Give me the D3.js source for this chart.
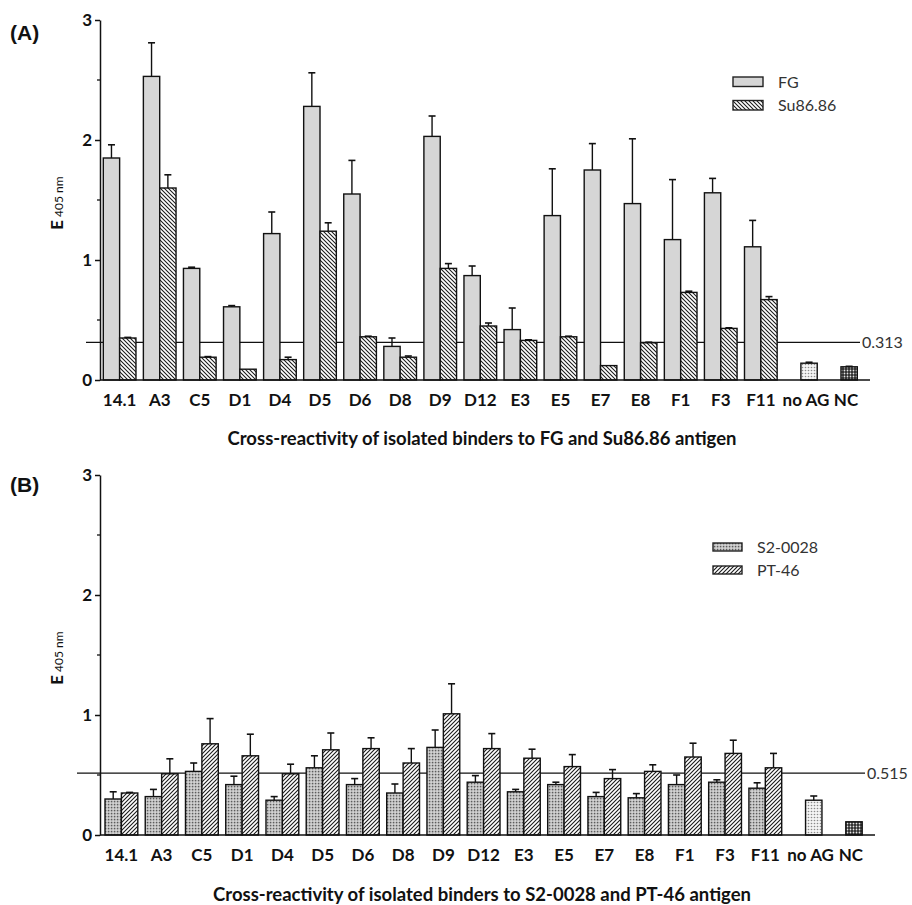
<!DOCTYPE html>
<html>
<head>
<meta charset="utf-8">
<script src="https://cdn.jsdelivr.net/npm/d3@7"></script>
<style>
  body { margin: 0; background: #fff; }
  text { font-family: Lato, "Open Sans", sans-serif; }
</style>
</head>
<body>
<svg id="chart" width="912" height="905"></svg>
<script>
// Binders tested in the ELISA, followed by the two controls
const binders = ["14.1","A3","C5","D1","D4","D5","D6","D8","D9","D12","E3","E5","E7","E8","F1","F3","F11"];
const controls = ["no AG","NC"];

// Panel A: FG and Su86.86 antigen (E405 nm, mean and upper SD)
const fgValues  = [1.85,2.53,0.93,0.61,1.22,2.28,1.55,0.28,2.03,0.87,0.42,1.37,1.75,1.47,1.17,1.56,1.11];
const fgErrors  = [0.11,0.28,0.01,0.01,0.18,0.28,0.28,0.07,0.17,0.08,0.18,0.39,0.22,0.54,0.50,0.12,0.22];
const suValues  = [0.35,1.60,0.19,0.09,0.17,1.24,0.36,0.19,0.93,0.45,0.33,0.36,0.12,0.31,0.73,0.43,0.67];
const suErrors  = [0.005,0.11,0.005,0,0.02,0.07,0.005,0.01,0.04,0.025,0.005,0.005,0,0.005,0.01,0.005,0.025];
const controlValuesA = [0.14,0.11];
const controlErrorsA = [0.008,0.004];
const cutoffA = 0.313;

// Panel B: S2-0028 and PT-46 antigen
const s2Values  = [0.30,0.32,0.53,0.42,0.29,0.56,0.42,0.35,0.73,0.44,0.36,0.42,0.32,0.31,0.42,0.44,0.39];
const s2Errors  = [0.06,0.06,0.07,0.07,0.03,0.10,0.05,0.075,0.145,0.055,0.02,0.02,0.035,0.035,0.08,0.02,0.045];
const ptValues  = [0.35,0.51,0.76,0.66,0.51,0.71,0.72,0.60,1.01,0.72,0.64,0.57,0.47,0.53,0.65,0.68,0.56];
const ptErrors  = [0.005,0.125,0.21,0.18,0.08,0.14,0.09,0.12,0.25,0.125,0.075,0.10,0.075,0.055,0.115,0.11,0.12];
const controlValuesB = [0.29,0.11];
const controlErrorsB = [0.035,0];
const cutoffB = 0.515;

const yTickValues = [0,1,2,3];
const yMinorTickValues = [0.5,1.5,2.5];

const svg = d3.select("#chart");
const defs = svg.append("defs");

// Fill patterns
function hatch(id, d, sw) {
  const p = defs.append("pattern").attr("id", id)
    .attr("patternUnits", "userSpaceOnUse").attr("width", 4).attr("height", 4);
  p.append("rect").attr("width", 4).attr("height", 4).attr("fill", "#fff");
  p.append("path").attr("d", d).attr("stroke", "#1a1a1a").attr("stroke-width", sw);
}
hatch("hatchBack", "M0,0L4,4M-1,3L1,5M3,-1L5,1", 1.05);
hatch("hatchFwd", "M0,4L4,0M-1,1L1,-1M3,5L5,3", 1.1);

(function () {
  const p = defs.append("pattern").attr("id", "checkFine")
    .attr("patternUnits", "userSpaceOnUse").attr("width", 3).attr("height", 3);
  p.append("rect").attr("width", 3).attr("height", 3).attr("fill", "#b9b9b9");
  p.append("rect").attr("x", 0).attr("y", 0).attr("width", 1.2).attr("height", 1.2).attr("fill", "#5c5c5c");
  p.append("rect").attr("x", 1.5).attr("y", 1.5).attr("width", 1.2).attr("height", 1.2).attr("fill", "#f0f0f0");
})();
(function () {
  const p = defs.append("pattern").attr("id", "dotsLight")
    .attr("patternUnits", "userSpaceOnUse").attr("width", 3).attr("height", 3);
  p.append("rect").attr("width", 3).attr("height", 3).attr("fill", "#f4f4f4");
  p.append("circle").attr("cx", 1.5).attr("cy", 1.5).attr("r", 0.8).attr("fill", "#8a8a8a");
})();
(function () {
  const p = defs.append("pattern").attr("id", "dotsDark")
    .attr("patternUnits", "userSpaceOnUse").attr("width", 3).attr("height", 3);
  p.append("rect").attr("width", 3).attr("height", 3).attr("fill", "#2a2a2a");
  p.append("circle").attr("cx", 1.5).attr("cy", 1.5).attr("r", 0.9).attr("fill", "#e6e6e6");
})();

const panels = [
  {
    tag: "(A)", tagY: 40,
    yTop: 20, yBottom: 380,
    xRange: [103.3, 857.3], axisEnd: 870,
    cutoff: cutoffA, cutoffFrom: 86, cutoffTo: 860,
    series: [
      { name: "FG", values: fgValues, errors: fgErrors, fill: "#d6d6d6" },
      { name: "Su86.86", values: suValues, errors: suErrors, fill: "url(#hatchBack)" }
    ],
    controlValues: controlValuesA, controlErrors: controlErrorsA,
    legend: { x: 733, y: 77, w: 30, h: 9.5, gap: 23.5, textX: 778 },
    title: "Cross-reactivity of isolated binders to FG and Su86.86 antigen", titleY: 445
  },
  {
    tag: "(B)", tagY: 492,
    yTop: 475, yBottom: 835,
    xRange: [105, 862.2], axisEnd: 875,
    cutoff: cutoffB, cutoffFrom: 77, cutoffTo: 865,
    series: [
      { name: "S2-0028", values: s2Values, errors: s2Errors, fill: "url(#checkFine)" },
      { name: "PT-46", values: ptValues, errors: ptErrors, fill: "url(#hatchFwd)" }
    ],
    controlValues: controlValuesB, controlErrors: controlErrorsB,
    legend: { x: 713, y: 543, w: 29, h: 8, gap: 23, textX: 757 },
    title: "Cross-reactivity of isolated binders to S2-0028 and PT-46 antigen", titleY: 901
  }
];

const controlFills = ["url(#dotsLight)", "url(#dotsDark)"];

panels.forEach(cfg => {
  const g = svg.append("g");
  const categories = binders.concat(controls);

  const x = d3.scaleBand().domain(categories).range(cfg.xRange)
    .paddingInner(0.185).paddingOuter(0);
  const xs = d3.scaleBand().domain(cfg.series.map(s => s.name))
    .range([0, x.bandwidth()]).padding(0);
  const y = d3.scaleLinear().domain([0, 3]).range([cfg.yBottom, cfg.yTop]);

  // Panel tag
  g.append("text").attr("x", 10).attr("y", cfg.tagY)
    .style("font-family", "'Liberation Sans', Arial, sans-serif")
    .attr("font-size", 21).attr("font-weight", "bold").attr("fill", "#111")
    .text(cfg.tag);

  // Cut-off line behind the bars
  g.append("line")
    .attr("x1", cfg.cutoffFrom).attr("x2", cfg.cutoffTo)
    .attr("y1", y(cfg.cutoff)).attr("y2", y(cfg.cutoff))
    .attr("stroke", "#111").attr("stroke-width", 1.3);
  g.append("text").attr("x", cfg.cutoffTo + 2).attr("y", y(cfg.cutoff))
    .attr("dy", "0.36em").attr("font-size", 16).attr("fill", "#333")
    .text(d3.format(".3f")(cfg.cutoff));

  // Grouped bars with upper error bars
  cfg.series.forEach(s => {
    const data = binders.map((c, i) => ({ c, v: s.values[i], e: s.errors[i] }));
    const bx = d => x(d.c) + xs(s.name);
    g.selectAll(null).data(data).join("rect")
      .attr("x", bx).attr("width", xs.bandwidth())
      .attr("y", d => y(d.v)).attr("height", d => y(0) - y(d.v))
      .attr("fill", s.fill).attr("stroke", "#111").attr("stroke-width", 1.4);
    const eb = g.selectAll(null).data(data.filter(d => d.e > 0)).join("g");
    eb.append("line")
      .attr("x1", d => bx(d) + xs.bandwidth() / 2).attr("x2", d => bx(d) + xs.bandwidth() / 2)
      .attr("y1", d => y(d.v)).attr("y2", d => y(d.v + d.e))
      .attr("stroke", "#111").attr("stroke-width", 1.4);
    eb.append("line")
      .attr("x1", d => bx(d) + xs.bandwidth() / 2 - 3.5).attr("x2", d => bx(d) + xs.bandwidth() / 2 + 3.5)
      .attr("y1", d => y(d.v + d.e)).attr("y2", d => y(d.v + d.e))
      .attr("stroke", "#111").attr("stroke-width", 1.6);
  });

  // Control bars (single bar per category)
  const ctrl = controls.map((c, i) => ({ c, v: cfg.controlValues[i], e: cfg.controlErrors[i], fill: controlFills[i] }));
  const cx = d => x(d.c) + xs(cfg.series[1].name);
  g.selectAll(null).data(ctrl).join("rect")
    .attr("x", cx).attr("width", xs.bandwidth())
    .attr("y", d => y(d.v)).attr("height", d => y(0) - y(d.v))
    .attr("fill", d => d.fill).attr("stroke", "#111").attr("stroke-width", 1.4);
  const ceb = g.selectAll(null).data(ctrl.filter(d => d.e > 0)).join("g");
  ceb.append("line")
    .attr("x1", d => cx(d) + xs.bandwidth() / 2).attr("x2", d => cx(d) + xs.bandwidth() / 2)
    .attr("y1", d => y(d.v)).attr("y2", d => y(d.v + d.e))
    .attr("stroke", "#111").attr("stroke-width", 1.4);
  ceb.append("line")
    .attr("x1", d => cx(d) + xs.bandwidth() / 2 - 3.5).attr("x2", d => cx(d) + xs.bandwidth() / 2 + 3.5)
    .attr("y1", d => y(d.v + d.e)).attr("y2", d => y(d.v + d.e))
    .attr("stroke", "#111").attr("stroke-width", 1.6);

  // Y axis with major and minor ticks
  const yAxis = g.append("g").attr("transform", "translate(100,0)")
    .call(d3.axisLeft(y).tickValues(yTickValues).tickFormat(d3.format("d")).tickSize(5).tickSizeOuter(0));
  yAxis.select(".domain").attr("stroke", "#111").attr("stroke-width", 1.5);
  yAxis.selectAll(".tick line").attr("stroke", "#111").attr("stroke-width", 1.5);
  yAxis.selectAll(".tick text").attr("font-size", 17).attr("font-weight", "bold")
    .attr("fill", "#111").attr("x", -8).style("font-family", "Lato, sans-serif");
  g.append("g").attr("transform", "translate(100,0)")
    .selectAll("line").data(yMinorTickValues).join("line")
    .attr("x1", -3).attr("x2", 0).attr("y1", d => y(d)).attr("y2", d => y(d))
    .attr("stroke", "#111").attr("stroke-width", 1.3);

  // X axis baseline and category labels
  g.append("line").attr("x1", 100).attr("x2", cfg.axisEnd)
    .attr("y1", y(0)).attr("y2", y(0)).attr("stroke", "#111").attr("stroke-width", 1.5);
  const xAxis = g.append("g").attr("transform", `translate(0,${y(0)})`)
    .call(d3.axisBottom(x).tickSize(0).tickPadding(0));
  xAxis.select(".domain").remove();
  xAxis.selectAll(".tick text").attr("font-size", 17).attr("font-weight", "bold")
    .attr("fill", "#111").attr("dy", 0).attr("y", 26).style("font-family", "Lato, sans-serif")
    .attr("dx", d => controls.includes(d) ? 5 : 0);

  // Y axis title: E with 405 nm subscript
  const yc = (cfg.yTop + cfg.yBottom) / 2 + 3;
  const yt = g.append("text")
    .attr("transform", `translate(63,${yc}) rotate(-90)`)
    .attr("text-anchor", "middle").attr("fill", "#111");
  yt.append("tspan").attr("font-size", 17).attr("font-weight", "bold").text("E");
  yt.append("tspan").attr("font-size", 12).attr("dx", 3).text("405 nm");

  // X axis title
  g.append("text").attr("x", 482).attr("y", cfg.titleY)
    .attr("text-anchor", "middle").attr("font-size", 18.5).attr("font-weight", "bold")
    .attr("fill", "#111").text(cfg.title);

  // Legend
  const L = cfg.legend;
  cfg.series.forEach((s, i) => {
    g.append("rect").attr("x", L.x).attr("y", L.y + i * L.gap)
      .attr("width", L.w).attr("height", L.h)
      .attr("fill", s.fill).attr("stroke", "#222").attr("stroke-width", 1.4);
    g.append("text").attr("x", L.textX).attr("y", L.y + i * L.gap + L.h / 2)
      .attr("dy", "0.36em").attr("font-size", 16).attr("fill", "#333")
      .text(s.name);
  });
});
</script>
</body>
</html>
